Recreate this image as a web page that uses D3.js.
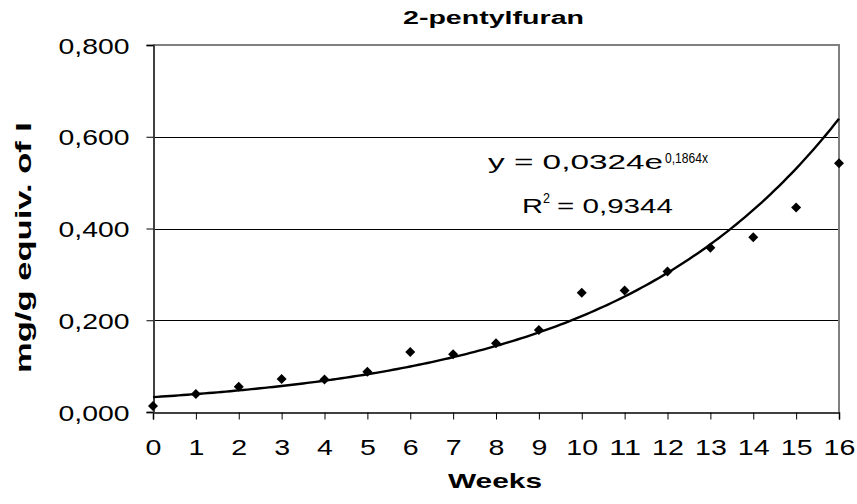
<!DOCTYPE html>
<html><head><meta charset="utf-8">
<script src="https://cdn.jsdelivr.net/npm/d3@7"></script>
<style>body{margin:0;background:#fff}svg{display:block;font-family:"Liberation Sans",Arial,sans-serif}</style>
</head><body>
<svg id="c" width="857" height="504"></svg>
<script>
const weeks = [0,1,2,3,4,5,6,7,8,9,10,11,12,13,14,15,16];
const values = [0.013,0.039,0.055,0.072,0.071,0.088,0.131,0.126,0.150,0.179,0.260,0.265,0.306,0.358,0.381,0.446,0.542];
const yTicks = [0,0.2,0.4,0.6,0.8];
const fitA = 0.0324, fitB = 0.1864;
const title = "2-pentylfuran", xTitle = "Weeks", yTitle = "mg/g equiv. of I";

const svg = d3.select("#c");
const L=153,R=839,T=45,B=412;
const x = d3.scaleLinear().domain([0,16]).range([L,R]);
const y = d3.scaleLinear().domain([0,0.8]).range([B,T]);
const fmt = v => d3.format(".3f")(v).replace(".",",");
const FF = "Liberation Sans, Arial, sans-serif";

// gridlines
svg.append("g").selectAll("line").data(yTicks.filter(v=>v>0&&v<0.8)).join("line")
  .attr("x1",L).attr("x2",R).attr("y1",d=>Math.round(y(d))+0.5).attr("y2",d=>Math.round(y(d))+0.5)
  .attr("stroke","#000").attr("stroke-width",1);
// plot border top/right gray
svg.append("path").attr("d",`M${L},${T}H${R}V${B}`).attr("fill","none").attr("stroke","#808080").attr("stroke-width",2);

// axes
const xa = svg.append("g").attr("transform",`translate(0,${B+0.5})`)
  .call(d3.axisBottom(x).tickValues(weeks).tickSize(7).tickPadding(0).tickFormat(d3.format("d")));
const ya = svg.append("g").attr("transform",`translate(${L+0.5},0)`)
  .call(d3.axisLeft(y).tickValues(yTicks).tickSize(7).tickPadding(0).tickFormat(fmt));
[xa,ya].forEach(a=>{
  a.attr("font-size",22).attr("font-family",FF);
  a.select(".domain").attr("stroke","#000").attr("stroke-width",1.5);
  a.selectAll(".tick line").attr("stroke","#000");
  a.selectAll("text").attr("fill","#000").attr("lengthAdjust","spacingAndGlyphs");
});
ya.select(".domain").attr("stroke","#404040").attr("stroke-width",2);
xa.selectAll("text").attr("dy",null).attr("y",42)
  .attr("textLength",d=>String(d).length*15.9);
ya.selectAll("text").attr("dy",null).attr("x",-24).attr("y",8).attr("textLength",71);

// trendline
const xs = d3.range(0,16.001,0.1);
const line = d3.line().x(d=>x(d)).y(d=>y(fitA*Math.exp(fitB*d)));
svg.append("path").datum(xs).attr("d",line).attr("fill","none").attr("stroke","#000").attr("stroke-width",2.4);

// points
svg.append("g").selectAll("path").data(weeks).join("path")
  .attr("transform",(d,i)=>`translate(${x(d)},${y(values[i])})`)
  .attr("d","M0,-5L5,0L0,5L-5,0Z")
  .attr("fill","#000");

// equation
function txt(s,xp,yp,fs,len,extra){
  const t = svg.append("text").attr("x",xp).attr("y",yp).attr("font-size",fs).attr("font-family",FF)
    .attr("textLength",len).attr("lengthAdjust","spacingAndGlyphs").text(s);
  if(extra) extra(t);
  return t;
}
txt("y = 0,0324e",488,169,20,175);
txt("0,1864x",665,163,14,43);
txt("R",522,213,20,21);
txt("2",543,203,14,7);
txt("= 0,9344",557,213,20,116);

// titles
txt(title,403,24,18,181,t=>t.attr("font-weight","bold"));
txt(xTitle,448,488,21,94,t=>t.attr("font-weight","bold"));
svg.append("text").attr("transform","translate(31,373) rotate(-90)").attr("font-weight","bold").attr("font-size",22)
  .attr("font-family",FF).attr("textLength",251).attr("lengthAdjust","spacingAndGlyphs").text(yTitle);
</script>
</body></html>
